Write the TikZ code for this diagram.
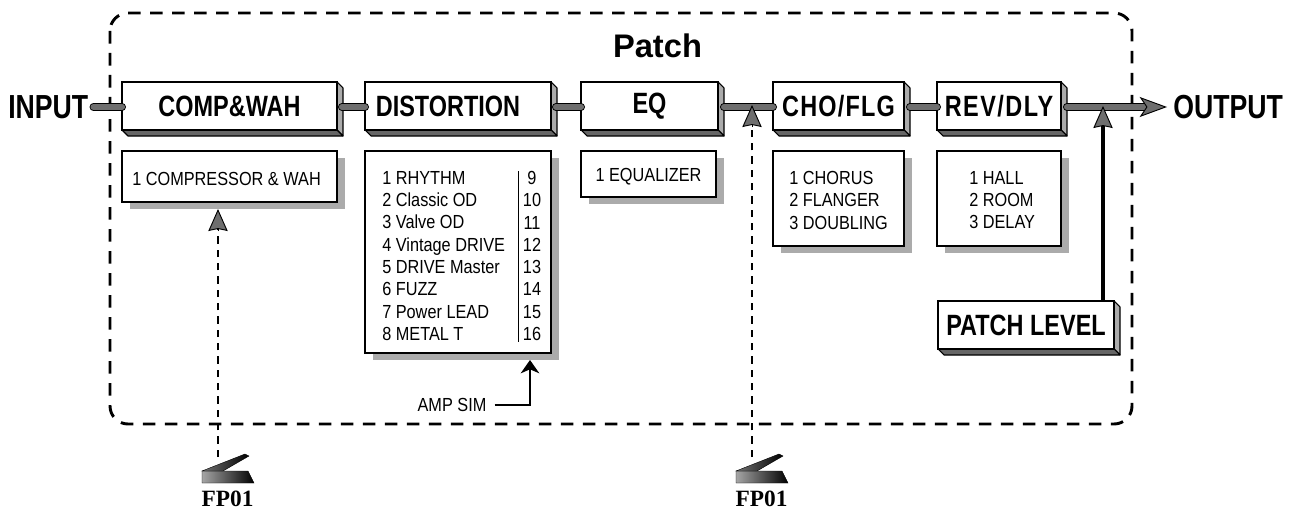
\documentclass[tikz,border=0pt]{standalone}
\usepackage{fontspec}
\usetikzlibrary{arrows.meta}
\setmainfont{Liberation Sans}
\newfontfamily\labfont[FakeStretch=0.86]{Liberation Sans}
\newfontfamily\headfont[FakeStretch=0.8]{Liberation Sans}
\newfontfamily\fpfont{Liberation Serif}
\definecolor{sidegray}{HTML}{ABABAB}
\definecolor{botgray}{HTML}{666666}
\definecolor{conngray}{HTML}{6E6E6E}
\tikzset{
  head/.style={draw=black,fill=white,line width=1.6pt,inner sep=0pt,outer sep=0pt,anchor=north west,
     font=\headfont\bfseries\fontsize{22}{24}\selectfont},
  listbox/.style={draw=black,fill=white,line width=1.6pt,inner sep=0pt,outer sep=0pt,anchor=north west},
  shadowbox/.style={fill=sidegray},
  sideface/.style={fill=sidegray,draw=black,line width=0.8pt,line join=round},
  botface/.style={fill=botgray,draw=black,line width=0.8pt,line join=round},
  listtext/.style={font=\labfont\fontsize{14.2}{16.7}\selectfont,align=left,inner sep=0pt,anchor=west},
  conn/.style={draw=black,line width=0.7pt,double=conngray,double distance=4.6pt,line cap=round},
  tipline/.style={draw=black,line width=0.7pt,-{Stealth[length=16.5pt,width=14.5pt,inset=1.5pt,fill=conngray]}},
  outtip/.style={draw=black,line width=0.7pt,-{Stealth[length=20.5pt,width=15pt,inset=5pt,fill=conngray]}},
  dashline/.style={draw=black,line width=2.2pt,dash pattern=on 9.5pt off 7pt},
  footdash/.style={draw=black,line width=1.9pt,dash pattern=on 5.5pt off 4.5pt},
  ioword/.style={font=\headfont\bfseries\fontsize{25}{27}\selectfont,inner sep=0pt},
  fplabel/.style={font=\fpfont\bfseries\fontsize{17.5}{19}\selectfont,inner sep=0pt},
}
\newcommand{\headbox}[6]{% name x y w h text
  \node[head,minimum width=#4*0.75pt,minimum height=#5*0.75pt] (#1) at (#2,#3) {#6};
  \path[sideface] (#1.north east) -- ([shift={(6,6)}]#1.north east) -- ([shift={(6,6)}]#1.south east) -- (#1.south east) -- cycle;
  \path[botface] (#1.south west) -- ([shift={(6,6)}]#1.south west) -- ([shift={(6,6)}]#1.south east) -- (#1.south east) -- cycle;
  \node[head,minimum width=#4*0.75pt,minimum height=#5*0.75pt] at (#2,#3) {#6};
}
\newcommand{\listpanel}[5]{% name x y w h
  \fill[shadowbox] (#2+8,#3+7) rectangle (#2+#4+8,#3+#5+7);
  \node[listbox,minimum width=#4*0.75pt,minimum height=#5*0.75pt] (#1) at (#2,#3) {};
}
\newcommand{\pedal}[2]{% name x of the pedal's left edge
  \coordinate (#1) at (#2,471);
  \shade[left color=black!35,right color=black,draw=black,line width=0.3pt]
    (#1) -- ++(46,0) -- ++(6,12) -- ++(-52,0) -- cycle;
  \shade[left color=black!55,right color=black,draw=black,line width=0.3pt]
    (#1) -- ++(43,-17) -- ++(4,2) -- ++(-26,15) -- cycle;
}
\begin{document}
\begin{tikzpicture}[x=0.75pt,y=-0.75pt]
\useasboundingbox (0,0) rectangle (1292,510);
\fill[white] (0,0) rectangle (1292,510);

% patch frame
\draw[dashline,rounded corners=13.5pt] (110,13) rectangle (1132,424);
\node[font=\bfseries\fontsize{24.5}{27}\selectfont,inner sep=0pt] (patch) at (657.5,46) {Patch};

% signal blocks
\headbox{comp}{122}{82}{215}{48}{COMP\&WAH}
\headbox{dist}{365}{82}{186}{48}{DISTORTION\kern15pt\relax}
\headbox{eq}{581}{82}{137}{48}{EQ}
\headbox{cho}{773}{82}{131}{48}{\addfontfeature{LetterSpace=4}CHO/FLG}
\headbox{rev}{937}{82}{124}{48}{\addfontfeature{LetterSpace=5}REV/DLY}
\headbox{plevel}{938}{301}{176}{48}{PATCH LEVEL}

% list panels
\listpanel{lcomp}{122}{151}{215}{51}
\node[listtext,anchor=west] (tcomp) at ([shift={(10,2)}]lcomp.west) {1 COMPRESSOR \& WAH};
\listpanel{ldist}{365}{151}{186}{202}
\node[listtext,anchor=north west,font=\labfont\fontsize{14.2}{16.72}\selectfont] (tdist) at (382,171) {1 RHYTHM\\2 Classic OD\\3 Valve OD\\4 Vintage DRIVE\\5 DRIVE Master\\6 FUZZ\\7 Power LEAD\\8 METAL T};
\node[listtext,anchor=north,align=center,font=\labfont\fontsize{14.2}{16.72}\selectfont] (ndist) at (532,171) {9\\10\\11\\12\\13\\14\\15\\16};
\coordinate (septop) at (518,171);
\coordinate (sepbot) at (518,342);
\draw[line width=0.75pt] (septop) -- (sepbot);
\listpanel{leq}{581}{151}{135}{46}
\node[listtext,anchor=center] (teq) at ([yshift=-2pt]leq.center) {1 EQUALIZER};
\listpanel{lcho}{773}{151}{131}{95}
\node[listtext,anchor=north west] (tcho) at (789,171) {1 CHORUS\\2 FLANGER\\3 DOUBLING};
\listpanel{lrev}{937}{151}{124}{95}
\node[listtext,anchor=north west] (trev) at (969,171) {1 HALL\\2 ROOM\\3 DELAY};

% input / output
\node[ioword,anchor=west] (input) at (8,107) {INPUT};
\node[ioword,anchor=west] (output) at (1173,107) {OUTPUT};

% signal connectors
\draw[conn] ([shift={(5,0)}]input.east) -- ([yshift=-0.75pt]comp.west);
\draw[conn] ([shift={(5,1)}]comp.east) -- ([yshift=-0.75pt]dist.west);
\draw[conn] ([shift={(5,1)}]dist.east) -- ([yshift=-0.75pt]eq.west);
\draw[conn] ([shift={(6,1)}]eq.east) -- ([yshift=-0.75pt]cho.west);
\draw[conn] ([shift={(6,1)}]cho.east) -- ([yshift=-0.75pt]rev.west);
\coordinate (outbase) at (1146,107);
\draw[conn] ([shift={(6,1)}]rev.east) -- (outbase);
\draw[outtip] (outbase) -- ([xshift=-4.5pt]output.west);

% patch level feed
\coordinate (ltip) at (1103,106);
\draw[line width=3.6pt] (plevel.north -| ltip) -- (1103,124);
\draw[tipline] (1103,127) -- (ltip);

% expression pedals
\pedal{pa}{202}
\pedal{pb}{736}
\node[fplabel] (fpa) at (227.5,499) {FP01};
\node[fplabel] (fpb) at (761.5,499) {FP01};
\coordinate (atip) at (218,209);
\coordinate (btip) at (752,105);
\draw[footdash] (218,457) -- (218,229);
\draw[tipline] (218,231) -- (atip);
\draw[footdash] (752,457) -- (752,125);
\draw[tipline] (752,127) -- (btip);

% amp sim
\node[listtext,anchor=center] (amp) at (452,405) {AMP SIM};
\coordinate (ampend) at (530,360);
\draw[line width=0.9pt,-{Stealth[length=10pt,width=14pt,inset=3pt]}] ([xshift=6pt]amp.east) -| (ampend);
\end{tikzpicture}
\end{document}
